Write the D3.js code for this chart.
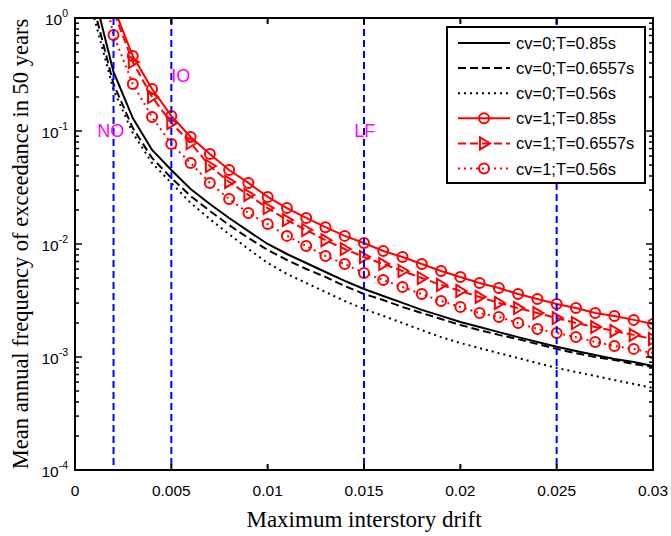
<!DOCTYPE html>
<html>
<head>
<meta charset="utf-8">
<script src="https://cdn.jsdelivr.net/npm/d3@7"></script>
<style>
  body { margin: 0; background: #fff; }
  text { font-family: "Liberation Sans", Arial, sans-serif; }
</style>
</head>
<body>
<svg id="chart" width="671" height="536"></svg>
<script>
// Maximum interstory drift (abscissa of every curve)
const drift = [0.001, 0.002, 0.003, 0.004, 0.005, 0.006, 0.007, 0.008, 0.009, 0.010,
               0.011, 0.012, 0.013, 0.014, 0.015, 0.016, 0.017, 0.018, 0.019, 0.020,
               0.021, 0.022, 0.023, 0.024, 0.025, 0.026, 0.027, 0.028, 0.029, 0.030];

// Mean annual frequency of exceedance, one array per case
const cv0_T085 = [1.6, 0.333, 0.130, 0.0679, 0.0452, 0.0307, 0.0226, 0.0170, 0.0130, 0.0100,
                  0.00816, 0.00679, 0.00565, 0.00471, 0.00400, 0.00347, 0.00301, 0.00261, 0.00231, 0.00204,
                  0.00184, 0.00166, 0.00150, 0.00136, 0.00123, 0.00113, 0.00104, 0.000960, 0.000903, 0.000832];
const cv0_T06557 = [1.2, 0.261, 0.106, 0.0577, 0.0384, 0.0266, 0.0196, 0.0147, 0.0113, 0.00885,
                    0.00722, 0.00601, 0.00511, 0.00425, 0.00361, 0.00319, 0.00277, 0.00245, 0.00217, 0.00192,
                    0.00173, 0.00157, 0.00144, 0.00130, 0.00118, 0.00108, 0.00100, 0.000940, 0.000867, 0.000816];
const cv0_T056 = [1.0, 0.231, 0.0960, 0.0521, 0.0347, 0.0231, 0.0166, 0.0122, 0.00903, 0.00679,
                  0.00543, 0.00452, 0.00376, 0.00313, 0.00266, 0.00231, 0.00200, 0.00173, 0.00150, 0.00133,
                  0.00120, 0.00108, 0.000980, 0.000885, 0.000800, 0.000737, 0.000679, 0.000626, 0.000577, 0.000532];
const cv1_T085 = [5.0, 1.25, 0.461, 0.235, 0.136, 0.0885, 0.0626, 0.0452, 0.0347, 0.0261,
                  0.0208, 0.0170, 0.0141, 0.0118, 0.0102, 0.00867, 0.00767, 0.00665, 0.00577, 0.00511,
                  0.00452, 0.00408, 0.00361, 0.00326, 0.00294, 0.00271, 0.00245, 0.00231, 0.00213, 0.00196];
const cv1_T06557 = [4.5, 1.15, 0.408, 0.200, 0.118, 0.0783, 0.0490, 0.0354, 0.0272, 0.0208,
                    0.0163, 0.0133, 0.0108, 0.00903, 0.00767, 0.00665, 0.00577, 0.00500, 0.00434, 0.00384,
                    0.00340, 0.00301, 0.00271, 0.00245, 0.00221, 0.00200, 0.00184, 0.00170, 0.00157, 0.00144];
const cv1_T056 = [4.0, 0.707, 0.261, 0.133, 0.0767, 0.0521, 0.0347, 0.0250, 0.0188, 0.0150,
                  0.0118, 0.00960, 0.00783, 0.00665, 0.00554, 0.00480, 0.00416, 0.00361, 0.00313, 0.00277,
                  0.00245, 0.00226, 0.00200, 0.00177, 0.00163, 0.00150, 0.00136, 0.00125, 0.00118, 0.00108];

// Performance-level limits (vertical guides) and their labels
const limitDrifts = [0.002, 0.005, 0.015, 0.025];
const limitLabels = [
  { text: "NO", x: 0.00115, y: 0.1 },
  { text: "IO", x: 0.0050, y: 0.31 },
  { text: "LF", x: 0.0145, y: 0.1 }
];

// Axis ticks
const xTicks = [0, 0.005, 0.01, 0.015, 0.02, 0.025, 0.03];
const xTickLabels = ["0", "0.005", "0.01", "0.015", "0.02", "0.025", "0.03"];
const yTicks = [1e-4, 1e-3, 1e-2, 1e-1, 1];
const yTickExps = ["-4", "-3", "-2", "-1", "0"];

const seriesNames = ["cv=0;T=0.85s", "cv=0;T=0.6557s", "cv=0;T=0.56s",
                     "cv=1;T=0.85s", "cv=1;T=0.6557s", "cv=1;T=0.56s"];
const seriesValues = [cv0_T085, cv0_T06557, cv0_T056, cv1_T085, cv1_T06557, cv1_T056];

// Line styles for each case
const styles = [
  { color: "#000", dash: null,  marker: null },
  { color: "#000", dash: "8,4", marker: null },
  { color: "#000", dash: "2,4", marker: null },
  { color: "#f00", dash: null,  marker: "circle" },
  { color: "#f00", dash: "8,4", marker: "triangle" },
  { color: "#f00", dash: "2,4", marker: "circle" }
];

const plotL = 75, plotR = 653, plotT = 18, plotB = 470;
const svg = d3.select("#chart");

const x = d3.scaleLinear().domain([0, 0.03]).range([plotL, plotR]);
const y = d3.scaleLog().domain([1e-4, 1]).range([plotB, plotT]);

svg.append("defs").append("clipPath").attr("id", "plotClip")
  .append("rect").attr("x", plotL).attr("y", plotT)
  .attr("width", plotR - plotL).attr("height", plotB - plotT);

const plot = svg.append("g").attr("clip-path", "url(#plotClip)");

const line = d3.line().x(d => x(d[0])).y(d => y(d[1]));
const trianglePath = "M-4,-6L6,0L-4,6Z";

seriesValues.forEach((vals, i) => {
  const st = styles[i];
  const pts = drift.map((d, k) => [d, vals[k]]);
  plot.append("path").datum(pts)
    .attr("d", line)
    .attr("fill", "none")
    .attr("stroke", st.color)
    .attr("stroke-width", 2)
    .attr("stroke-dasharray", st.dash);
  if (st.marker === "circle") {
    plot.selectAll(null).data(pts).enter().append("circle")
      .attr("cx", d => x(d[0])).attr("cy", d => y(d[1])).attr("r", 5)
      .attr("fill", "none").attr("stroke", st.color).attr("stroke-width", 2);
  } else if (st.marker === "triangle") {
    plot.selectAll(null).data(pts).enter().append("path")
      .attr("d", trianglePath)
      .attr("transform", d => `translate(${x(d[0])},${y(d[1])})`)
      .attr("fill", "none").attr("stroke", st.color).attr("stroke-width", 2);
  }
});

// Vertical limit lines
plot.selectAll(null).data(limitDrifts).enter().append("line")
  .attr("x1", d => x(d)).attr("x2", d => x(d))
  .attr("y1", plotT).attr("y2", plotB)
  .attr("stroke", "#0000ff").attr("stroke-width", 2)
  .attr("stroke-dasharray", "7,4");

// Limit labels
svg.selectAll(null).data(limitLabels).enter().append("text")
  .attr("x", d => x(d.x)).attr("y", d => y(d.y))
  .attr("dy", "0.36em")
  .attr("fill", "#ff00ff")
  .attr("font-size", 18)
  .text(d => d.text);

// Axis frame and ticks
const axes = svg.append("g");
axes.append("rect").attr("x", plotL).attr("y", plotT)
  .attr("width", plotR - plotL).attr("height", plotB - plotT)
  .attr("fill", "none").attr("stroke", "#000").attr("stroke-width", 2);

xTicks.forEach(t => {
  axes.append("line").attr("x1", x(t)).attr("x2", x(t)).attr("y1", plotB).attr("y2", plotB - 6)
    .attr("stroke", "#000").attr("stroke-width", 2);
  axes.append("line").attr("x1", x(t)).attr("x2", x(t)).attr("y1", plotT).attr("y2", plotT + 6)
    .attr("stroke", "#000").attr("stroke-width", 2);
});
axes.selectAll(null).data(xTicks).enter().append("text")
  .attr("x", d => x(d)).attr("y", plotB + 26)
  .attr("text-anchor", "middle").attr("font-size", 15.5)
  .text((d, i) => xTickLabels[i]);

// Log ticks on left and right
const yAll = y.ticks();
yAll.forEach(t => {
  const isMajor = yTicks.some(m => Math.abs(m - t) / m < 1e-9);
  const len = isMajor ? 7 : 4;
  axes.append("line").attr("x1", plotL).attr("x2", plotL + len).attr("y1", y(t)).attr("y2", y(t))
    .attr("stroke", "#000").attr("stroke-width", 1.5);
  axes.append("line").attr("x1", plotR).attr("x2", plotR - len).attr("y1", y(t)).attr("y2", y(t))
    .attr("stroke", "#000").attr("stroke-width", 1.5);
});
yTicks.forEach((t, i) => {
  const tx = axes.append("text")
    .attr("x", plotL - 7).attr("y", y(t) + 7)
    .attr("text-anchor", "end").attr("font-size", 15.5);
  tx.append("tspan").text("10");
  tx.append("tspan").attr("font-size", 10.5).attr("dy", -8).text(yTickExps[i]);
});

// Axis titles
svg.append("text")
  .attr("x", (plotL + plotR) / 2).attr("y", 527)
  .attr("text-anchor", "middle")
  .style("font-family", "'Liberation Serif', 'Times New Roman', serif")
  .attr("font-size", 23)
  .text("Maximum interstory drift");
svg.append("text")
  .attr("transform", `translate(28,${(plotT + plotB) / 2}) rotate(-90)`)
  .attr("text-anchor", "middle")
  .style("font-family", "'Liberation Serif', 'Times New Roman', serif")
  .attr("font-size", 22.5)
  .text("Mean annual frequency of exceedance in 50 years");

// Legend
const lg = svg.append("g");
lg.append("rect").attr("x", 447).attr("y", 27).attr("width", 198).attr("height", 156)
  .attr("fill", "#fff").attr("stroke", "#000").attr("stroke-width", 2);
seriesNames.forEach((name, i) => {
  const st = styles[i];
  const ry = 43 + i * 25.1;
  lg.append("line").attr("x1", 458).attr("x2", 510).attr("y1", ry).attr("y2", ry)
    .attr("stroke", st.color).attr("stroke-width", 2).attr("stroke-dasharray", st.dash);
  if (st.marker === "circle") {
    lg.append("circle").attr("cx", 484).attr("cy", ry).attr("r", 5)
      .attr("fill", "none").attr("stroke", st.color).attr("stroke-width", 2);
  } else if (st.marker === "triangle") {
    lg.append("path").attr("d", trianglePath)
      .attr("transform", `translate(484,${ry})`)
      .attr("fill", "none").attr("stroke", st.color).attr("stroke-width", 2);
  }
  lg.append("text").attr("x", 516).attr("y", ry + 6)
    .attr("font-size", 16.5).text(name);
});
</script>
</body>
</html>
